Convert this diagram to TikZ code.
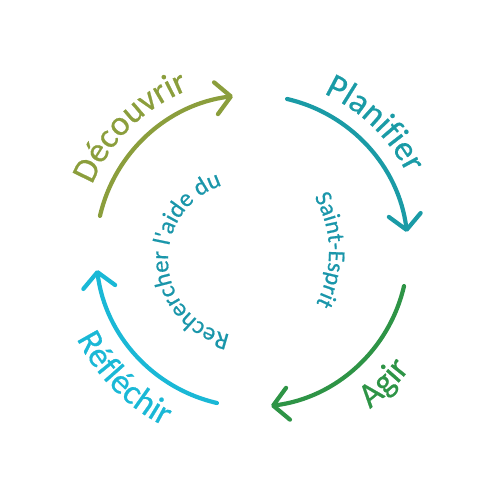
\documentclass[tikz,border=0pt]{standalone}
\usepackage{fontspec}
\setmainfont{Carlito}[FakeBold=0.6]
\usetikzlibrary{arrows.meta,decorations.text}
\definecolor{cOlive}{RGB}{139,158,60}
\definecolor{cTeal}{RGB}{26,155,166}
\definecolor{cGreen}{RGB}{46,148,70}
\definecolor{cCyan}{RGB}{26,184,214}
\definecolor{cInner}{RGB}{26,150,170}
\begin{document}
\begin{tikzpicture}[x=1pt,y=1pt,
  cyc/.style={line width=4.2pt, line cap=round,
    -{Straight Barb[length=15pt,width=32pt,round]}},
  outerlbl/.style={decorate, decoration={text along path, text align=center,
    text color=#1}},
]
\useasboundingbox (0,0) rectangle (500,500);
\coordinate (c) at (252,249);
\coordinate (ci) at (245,241);
\coordinate (cr) at (219,248);
% arrows
\draw[cyc, cOlive] ([shift={(167:156)}]c) arc[start angle=167, end angle=97, radius=156];
\draw[cyc, cTeal]  ([shift={(77:156)}]c) arc[start angle=77, end angle=7, radius=156];
\draw[cyc, cGreen] ([shift={(-13:156)}]c) arc[start angle=-13, end angle=-83, radius=156];
\draw[cyc, cCyan]  ([shift={(-103:156)}]c) arc[start angle=-103, end angle=-173, radius=156];
% outer labels
\path[outerlbl=cOlive, decoration={text={|\fontsize{35}{35}\selectfont|Découvrir}}]
  ([shift={(174.5:173)}]c) arc[start angle=174.5, end angle=94.5, radius=173];
\path[outerlbl=cTeal, decoration={text={|\fontsize{35}{35}\selectfont|Planifier}}]
  ([shift={(86:173)}]c) arc[start angle=86, end angle=6, radius=173];
\path[outerlbl=cGreen, decoration={text={|\fontsize{35}{35}\selectfont|Agir}}]
  ([shift={(-85:197)}]c) arc[start angle=-85, end angle=-5, radius=197];
\path[outerlbl=cCyan, decoration={text={|\fontsize{35}{35}\selectfont|Réfléchir}}]
  ([shift={(-175:196)}]c) arc[start angle=-175, end angle=-95, radius=196];
% inner labels
\path[outerlbl=cInner, decoration={text={|\fontsize{24.5}{24.5}\selectfont|Rechercher l{\textquotesingle}aide du}}]
  ([shift={(273:77)}]ci) arc[start angle=273, end angle=93, radius=77];
\path[outerlbl=cInner, decoration={text={|\fontsize{24}{24}\selectfont|Saint-Esprit}}]
  ([shift={(51:110)}]cr) arc[start angle=51, end angle=-49, radius=110];
\end{tikzpicture}
\end{document}
